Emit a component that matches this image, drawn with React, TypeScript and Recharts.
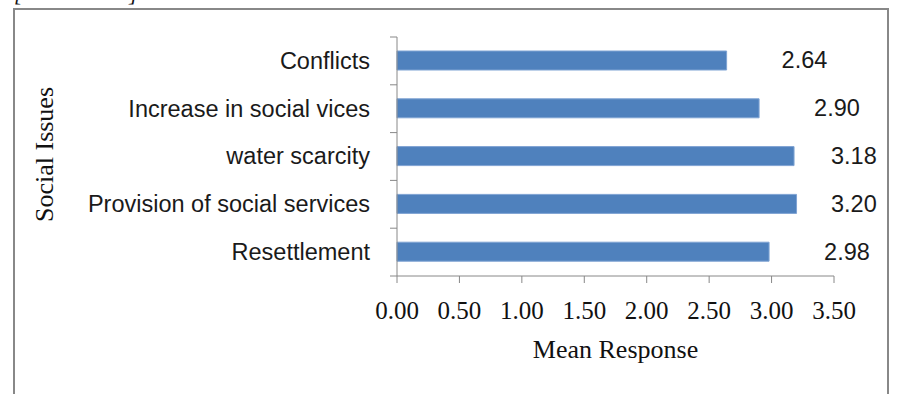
import React from 'react';
import { BarChart, Bar, XAxis, YAxis, LabelList, Label } from 'recharts';

const categories = [
  'Conflicts',
  'Increase in social vices',
  'water scarcity',
  'Provision of social services',
  'Resettlement',
];
const meanResponse = [2.64, 2.9, 3.18, 3.2, 2.98];
const xTicks = [0, 0.5, 1, 1.5, 2, 2.5, 3, 3.5];
const xTitle = 'Mean Response';
const yTitle = 'Social Issues';

const data = categories.map((name, i) => ({ name, value: meanResponse[i] }));

const W = 898;
const H = 394;
const MARGIN = { top: 37, right: 64, bottom: 0, left: 13 };
const X_AXIS_H = 118;
const Y_AXIS_W = 384;
const PLOT_H = H - MARGIN.top - MARGIN.bottom - X_AXIS_H;
const BAND = PLOT_H / categories.length;
const TICK_SIZE = 7;
const Y_TICK_MARGIN = 20;
const LABEL_GAP = 55;
const LABEL_MAX_X = W - MARGIN.right - 3;
const AXIS_COLOR = '#888888';
const SANS = '"Liberation Sans", Arial, sans-serif';
const SERIF = '"Liberation Serif", "Times New Roman", serif';

const YTick = (props: any) => {
  const { x, y, payload, index } = props;
  const axisX = x + Y_TICK_MARGIN + TICK_SIZE;
  const last = index === categories.length - 1;
  return (
    <g>
      <line x1={axisX - TICK_SIZE} x2={axisX} y1={y - BAND / 2} y2={y - BAND / 2} stroke={AXIS_COLOR} strokeWidth={1} />
      {last && (
        <line x1={axisX - TICK_SIZE} x2={axisX} y1={y + BAND / 2} y2={y + BAND / 2} stroke={AXIS_COLOR} strokeWidth={1} />
      )}
      <text x={x} y={y} dy="0.34em" textAnchor="end" fontFamily={SANS} fontSize={23.5} fill="#1a1a1a">
        {payload.value}
      </text>
    </g>
  );
};

const ValueLabel = (props: any) => {
  const { x, y, width, height, value } = props;
  const tx = Math.min(Number(x) + Number(width) + LABEL_GAP, LABEL_MAX_X);
  const ty = Number(y) + Number(height) / 2;
  return (
    <text x={tx} y={ty} dy="0.34em" textAnchor="start" fontFamily={SANS} fontSize={23.5} fill="#1a1a1a">
      {Number(value).toFixed(2)}
    </text>
  );
};

const YTitle = (props: any) => {
  const vb = props.viewBox || { x: 0, y: 0, width: 0, height: 0 };
  const cx = vb.x + 40;
  const cy = vb.y + vb.height / 2 - 2;
  return (
    <text
      x={cx}
      y={cy}
      textAnchor="middle"
      fontFamily={SERIF}
      fontSize={26}
      fill="#111"
      transform={`rotate(-90, ${cx}, ${cy})`}
    >
      {yTitle}
    </text>
  );
};

export default function App() {
  return (
    <div style={{ position: 'absolute', left: 0, top: 0, width: W, height: H, background: '#fff', overflow: 'hidden' }}>
      <div
        style={{
          position: 'absolute',
          left: 13,
          top: 8,
          width: 876,
          height: 420,
          border: `2px solid ${AXIS_COLOR}`,
          boxSizing: 'border-box',
        }}
      />
      <div style={{ position: 'absolute', left: 14, top: -17, fontFamily: SERIF, fontStyle: 'italic', fontSize: 22, lineHeight: '22px', color: '#111' }}>[</div>
      <div style={{ position: 'absolute', left: 129, top: -17, fontFamily: SERIF, fontStyle: 'italic', fontSize: 22, lineHeight: '22px', color: '#111' }}>]</div>
      <div style={{ position: 'absolute', left: 0, top: 0 }}>
        <BarChart width={W} height={H} data={data} layout="vertical" margin={MARGIN} barSize={19}>
          <XAxis
            type="number"
            domain={[0, 3.5]}
            ticks={xTicks}
            height={X_AXIS_H}
            tickFormatter={(v: number) => v.toFixed(2)}
            tickSize={TICK_SIZE}
            tickMargin={18}
            stroke={AXIS_COLOR}
            tick={{ fontFamily: SERIF, fontSize: 25, fill: '#111' }}
            interval={0}
          >
            <Label
              value={xTitle}
              position="insideBottom"
              offset={36}
              style={{ fontFamily: SERIF, fontSize: 26, fill: '#111' }}
            />
          </XAxis>
          <YAxis
            type="category"
            dataKey="name"
            width={Y_AXIS_W}
            tickLine={false}
            tickSize={TICK_SIZE}
            tickMargin={Y_TICK_MARGIN}
            stroke={AXIS_COLOR}
            tick={<YTick />}
            interval={0}
          >
            <Label content={<YTitle />} />
          </YAxis>
          <Bar dataKey="value" fill="#4F81BD" stroke="#7fa3d3" strokeWidth={1} isAnimationActive={false}>
            <LabelList dataKey="value" content={<ValueLabel />} />
          </Bar>
        </BarChart>
      </div>
    </div>
  );
}
